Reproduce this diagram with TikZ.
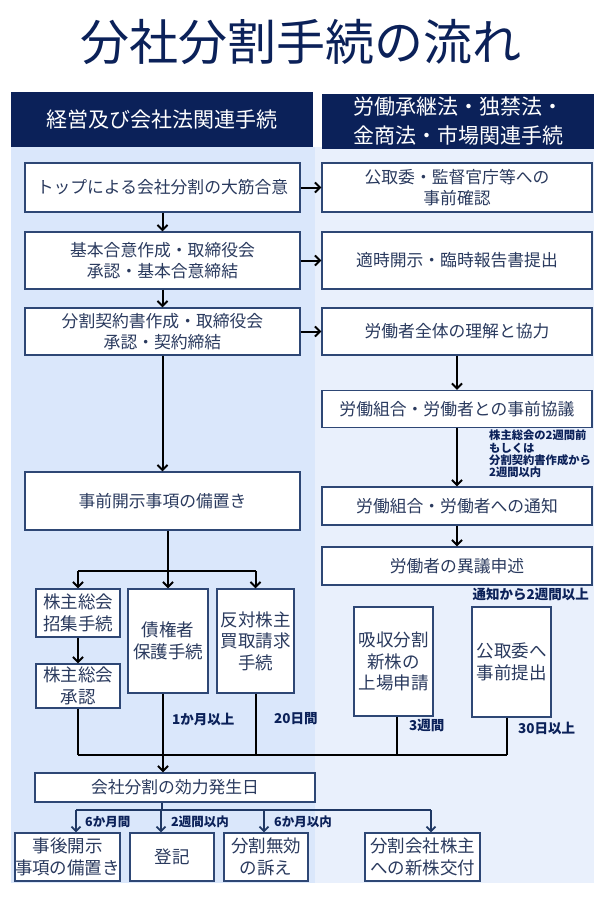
\documentclass[tikz,border=0pt]{standalone}
\usepackage{fontspec}
\setmainfont{Noto Sans CJK JP}
\usetikzlibrary{arrows.meta}
\definecolor{navy}{HTML}{0B2159}
\definecolor{boxline}{HTML}{2E4775}
\definecolor{txt}{HTML}{2A3A5E}
\definecolor{bgL}{HTML}{DAE7FB}
\definecolor{bgR}{HTML}{E9F0FC}
\definecolor{arrnavy}{HTML}{1F3864}
\begin{document}
\begin{tikzpicture}[x=1pt,y=-1pt,
 box/.style={draw=boxline,line width=1.3pt,fill=white,text=txt,align=center,font=\fontsize{16.8}{21}\selectfont,inner sep=0pt},
 sbox/.style={box,font=\fontsize{17.5}{21.5}\selectfont},
 hdr/.style={fill=navy,text=white,align=center,font=\fontsize{21}{29}\selectfont,inner sep=0pt},
 arr/.style={-{Straight Barb[length=5pt,width=10pt]},line width=2pt,black},
 ln/.style={line width=2pt,black},
 barr/.style={-{Straight Barb[length=4.5pt,width=9pt]},line width=1.8pt,arrnavy},
 bln/.style={line width=1.8pt,arrnavy},
 lbl/.style={font=\bfseries\fontsize{13.5}{15}\selectfont,text=navy,inner sep=0pt},
 blbl/.style={lbl,font=\bfseries\fontsize{12.5}{14}\selectfont},
 slbl/.style={font=\bfseries\fontsize{11.3}{12.3}\selectfont,text=navy,inner sep=0pt,align=left}
]
\useasboundingbox (0,0) rectangle (601,900);
\fill[white] (0,0) rectangle (601,900);
% backgrounds
\fill[bgL] (11,147) rectangle (315,883);
\fill[bgR] (315,147) rectangle (594,883);
% title
\node[text=navy,font=\fontsize{49}{52}\selectfont,inner sep=0pt] (title) at (301,42) {分社分割手続の流れ};
% headers
\node[hdr,minimum width=302pt,minimum height=55pt] (h1) at (162,119.5) {経営及び会社法関連手続};
\node[hdr,minimum width=272pt,minimum height=55pt] (h2) at (458,121) {労働承継法・独禁法・\\金商法・市場関連手続};
% left column
\node[box,minimum width=275pt,minimum height=49pt] (b1) at (162.5,187.5) {トップによる会社分割の大筋合意};
\node[box,minimum width=275pt,minimum height=57pt] (b2) at (162.5,260.5) {基本合意作成・取締役会\\承認・基本合意締結};
\node[box,minimum width=275pt,minimum height=47pt] (b3) at (162.5,331.5) {分割契約書作成・取締役会\\承認・契約締結};
\node[box,minimum width=275pt,minimum height=58pt] (b4) at (162.5,501) {事前開示事項の備置き};
% right column
\node[box,minimum width=270pt,minimum height=49pt] (r1) at (457,187.5) {公取委・監督官庁等への\\事前確認};
\node[box,minimum width=270pt,minimum height=57pt] (r2) at (457,260.5) {適時開示・臨時報告書提出};
\node[box,minimum width=270pt,minimum height=47pt] (r3) at (457,331.5) {労働者全体の理解と協力};
\node[box,minimum width=270pt,minimum height=37pt] (r4) at (457,409) {労働組合・労働者との事前協議};
\node[box,minimum width=270pt,minimum height=38pt] (r5) at (457,506) {労働組合・労働者への通知};
\node[box,minimum width=270pt,minimum height=38pt] (r6) at (457,566) {労働者の異議申述};
% small boxes
\node[sbox,minimum width=84pt,minimum height=48pt] (s1) at (78,613) {株主総会\\招集手続};
\node[sbox,minimum width=84pt,minimum height=44pt] (s2) at (78,686) {株主総会\\承認};
\node[sbox,minimum width=80pt,minimum height=104pt] (s3) at (168,641) {債権者\\保護手続};
\node[sbox,minimum width=77pt,minimum height=104pt] (s4) at (255.5,641) {反対株主\\買取請求\\手続};
\node[sbox,minimum width=79pt,minimum height=109pt] (s5) at (393.5,661.5) {吸収分割\\新株の\\上場申請};
\node[sbox,minimum width=79pt,minimum height=110pt] (s6) at (511.5,662) {公取委へ\\事前提出};
% effect date
\node[box,minimum width=280pt,minimum height=29pt] (eff) at (175,787.5) {会社分割の効力発生日};
% bottom boxes
\node[sbox,minimum width=105pt,minimum height=48pt] (bb1) at (67.5,857) {事後開示\\事項の備置き};
\node[sbox,minimum width=84pt,minimum height=48pt] (bb2) at (172,857) {登記};
\node[sbox,minimum width=84pt,minimum height=48pt] (bb3) at (266,857) {分割無効\\の訴え};
\node[sbox,minimum width=115pt,minimum height=48pt] (bb4) at (422.5,857) {分割会社株主\\への新株交付};
% horizontal arrows
\draw[arr] (b1.east) -- (r1.west);
\draw[arr] (b2.east) -- (r2.west);
\draw[arr] (b3.east) -- (r3.west);
% vertical arrows left
\draw[arr] (b1.south) -- (b2.north);
\draw[arr] (b2.south) -- (b3.north);
\draw[arr] (b3.south) -- (b4.north);
% right
\draw[arr] (r3.south) -- (r4.north);
\draw[arr] (r4.south) -- (r5.north);
\draw[arr] (r5.south) -- (r6.north);
\node[slbl,anchor=north west] (note1) at (489,430) {株主総会の2週間前\\もしくは\\分割契約書作成から\\2週間以内};
\node[lbl,anchor=east] (note2) at (589,594) {通知から2週間以上};
% split from b4
\coordinate (sp) at (168,571);
\draw[ln] (b4.south -| sp) -- (sp);
\draw[ln] (s1.north |- sp) -- (s4.north |- sp);
\draw[arr] (s1.north |- sp) -- (s1.north);
\draw[arr] (sp) -- (s3.north -| sp);
\draw[arr] (s4.north |- sp) -- (s4.north);
\draw[arr] (s1.south) -- (s2.north);
% merge
\coordinate (mg) at (163,755);
\draw[ln] (s2.south) -- (s2.south |- mg);
\draw[ln] (s3.south -| mg) -- (mg);
\draw[ln] (s4.south) -- (s4.south |- mg);
\draw[ln] ([xshift=3pt]s5.south) -- ([xshift=3pt]s5.south |- mg);
\draw[ln] ([xshift=-5pt]s6.south) -- ([xshift=-5pt]s6.south |- mg);
\draw[ln] (s2.south |- mg) -- ([xshift=-5pt]s6.south |- mg);
\draw[arr] (mg) -- (eff.north -| mg);
\node[lbl,anchor=west] (l1) at (172,719) {1か月以上};
\node[lbl,anchor=west] (l2) at (274,719) {20日間};
\node[lbl,anchor=west] (l3) at (409,726) {3週間};
\node[lbl,anchor=west] (l4) at (518,728) {30日以上};
% bottom split
\coordinate (bs) at (162,810);
\draw[bln] (eff.south -| bs) -- (bs);
\coordinate (t1) at (76,810);
\coordinate (t2) at (161,810);
\coordinate (t3) at (264,810);
\coordinate (t4) at (431,810);
\draw[bln] (t1) -- (t4);
\draw[barr] (t1) -- (bb1.north -| t1);
\draw[barr] (t2) -- (bb2.north -| t2);
\draw[barr] (t3) -- (bb3.north -| t3);
\draw[barr] (t4) -- (bb4.north -| t4);
\node[blbl,anchor=west] (l5) at (85,822) {6か月間};
\node[blbl,anchor=west] (l6) at (171,822) {2週間以内};
\node[blbl,anchor=west] (l7) at (274,822) {6か月以内};
\end{tikzpicture}
\end{document}
